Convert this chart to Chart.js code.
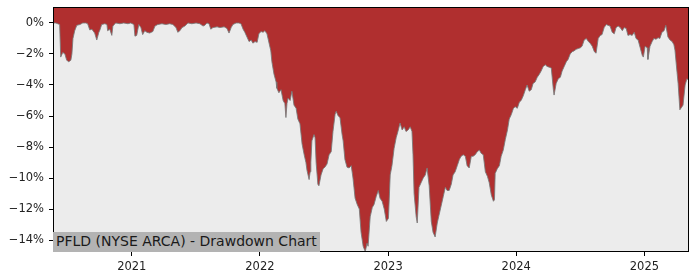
<!DOCTYPE html>
<html>
<head>
<meta charset="utf-8">
<script src="https://cdn.jsdelivr.net/npm/chart.js@4/dist/chart.umd.min.js"></script>
<style>
  html, body { margin: 0; padding: 0; background: #ffffff; }
  #wrap { position: relative; width: 700px; height: 280px; }
  #tag { position: absolute; font-family: "DejaVu Sans", sans-serif; font-size: 14px; color: #1a1a1a;
         background: #b3b3b3; padding: 1px 3px 2px 3px; white-space: nowrap; line-height: 17px; }
</style>
</head>
<body>
<div id="wrap">
  <canvas id="c" width="700" height="280"></canvas>
  <div id="tag">PFLD (NYSE ARCA) - Drawdown Chart</div>
</div>
<script>
const chartTitle = "PFLD (NYSE ARCA) - Drawdown Chart";
const yTicks = [0, -2, -4, -6, -8, -10, -12, -14];
const xTickYears = [2021, 2022, 2023, 2024, 2025];
const yRange = [-14.77, 1.03];

const dates = [
'2020-05-21','2020-05-29','2020-06-09','2020-06-12','2020-06-18','2020-06-24','2020-06-29','2020-07-05','2020-07-11','2020-07-14',
'2020-07-17','2020-07-22','2020-07-28','2020-08-06','2020-08-14','2020-08-23','2020-08-28','2020-09-03','2020-09-09','2020-09-17',
'2020-09-23','2020-09-29','2020-10-02','2020-10-07','2020-10-16','2020-10-22','2020-10-24','2020-10-30','2020-11-05','2020-11-08',
'2020-11-16','2020-11-28','2020-12-09','2020-12-21','2020-12-29','2021-01-07','2021-01-10','2021-01-15','2021-01-21','2021-01-27',
'2021-02-01','2021-02-07','2021-02-13','2021-02-21','2021-03-02','2021-03-08','2021-03-16','2021-03-28','2021-04-08','2021-04-19',
'2021-04-28','2021-05-07','2021-05-12','2021-05-18','2021-05-24','2021-06-01','2021-06-10','2021-06-21','2021-07-03','2021-07-14',
'2021-07-23','2021-07-28','2021-08-03','2021-08-09','2021-08-14','2021-08-20','2021-09-01','2021-09-09','2021-09-21','2021-09-29',
'2021-10-05','2021-10-11','2021-10-16','2021-10-25','2021-11-02','2021-11-08','2021-11-14','2021-11-19','2021-11-25','2021-12-01',
'2021-12-07','2021-12-12','2021-12-18','2021-12-24','2021-12-29','2022-01-04','2022-01-10','2022-01-15','2022-01-21','2022-01-27',
'2022-02-01','2022-02-04','2022-02-10','2022-02-16','2022-02-18','2022-02-24','2022-03-02','2022-03-08','2022-03-13','2022-03-16',
'2022-03-19','2022-03-22','2022-03-28','2022-04-02','2022-04-08','2022-04-14','2022-04-19','2022-04-25','2022-05-01','2022-05-07',
'2022-05-12','2022-05-15','2022-05-21','2022-05-24','2022-05-26','2022-05-29','2022-06-04','2022-06-07','2022-06-10','2022-06-15',
'2022-06-18','2022-06-24','2022-06-30','2022-07-05','2022-07-11','2022-07-17','2022-07-23','2022-07-28','2022-08-03','2022-08-06',
'2022-08-12','2022-08-17','2022-08-23','2022-08-26','2022-08-31','2022-09-06','2022-09-12','2022-09-18','2022-09-23','2022-09-29',
'2022-10-05','2022-10-11','2022-10-16','2022-10-22','2022-10-28','2022-11-02','2022-11-05','2022-11-11','2022-11-17','2022-11-22',
'2022-11-28','2022-12-04','2022-12-09','2022-12-15','2022-12-21','2022-12-27','2023-01-02','2023-01-07','2023-01-12','2023-01-18',
'2023-01-24','2023-01-29','2023-02-04','2023-02-10','2023-02-16','2023-02-21','2023-02-27','2023-03-05','2023-03-10','2023-03-13',
'2023-03-16','2023-03-22','2023-03-25','2023-03-30','2023-04-05','2023-04-11','2023-04-17','2023-04-22','2023-04-28','2023-05-04',
'2023-05-09','2023-05-15','2023-05-21','2023-05-26','2023-06-01','2023-06-07','2023-06-13','2023-06-18','2023-06-24','2023-06-30',
'2023-07-05','2023-07-11','2023-07-17','2023-07-23','2023-07-28','2023-08-03','2023-08-09','2023-08-14','2023-08-20','2023-08-26',
'2023-08-31','2023-09-06','2023-09-12','2023-09-18','2023-09-23','2023-09-29','2023-10-05','2023-10-11','2023-10-16','2023-10-22',
'2023-10-28','2023-10-31','2023-11-02','2023-11-08','2023-11-14','2023-11-19','2023-11-25','2023-12-01','2023-12-07','2023-12-12',
'2023-12-18','2023-12-24','2023-12-29','2024-01-04','2024-01-10','2024-01-15','2024-01-21','2024-01-27','2024-02-01','2024-02-07',
'2024-02-13','2024-02-18','2024-02-24','2024-03-01','2024-03-07','2024-03-12','2024-03-18','2024-03-24','2024-03-29','2024-04-04',
'2024-04-10','2024-04-16','2024-04-18','2024-04-24','2024-04-30','2024-05-06','2024-05-11','2024-05-17','2024-05-23','2024-05-28',
'2024-06-03','2024-06-09','2024-06-14','2024-06-20','2024-06-26','2024-07-02','2024-07-07','2024-07-13','2024-07-19','2024-07-25',
'2024-07-30','2024-08-05','2024-08-11','2024-08-16','2024-08-22','2024-08-28','2024-09-02','2024-09-08','2024-09-14','2024-09-19',
'2024-09-25','2024-10-01','2024-10-07','2024-10-12','2024-10-18','2024-10-24','2024-10-30','2024-11-04','2024-11-10','2024-11-15',
'2024-11-21','2024-11-27','2024-12-03','2024-12-08','2024-12-14','2024-12-20','2024-12-26','2024-12-29','2025-01-03','2025-01-09',
'2025-01-11','2025-01-17','2025-01-23','2025-01-28','2025-02-03','2025-02-09','2025-02-14','2025-02-20','2025-02-26','2025-03-03',
'2025-03-09','2025-03-15','2025-03-21','2025-03-26','2025-03-29','2025-04-04','2025-04-07','2025-04-12','2025-04-15','2025-04-21',
'2025-04-27','2025-05-02','2025-05-08'
];

const drawdown = [
0,0,-0.1,-2.2,-1.9,-2.0,-2.4,-2.5,-2.4,-2.0,
-1.0,-0.5,-0.15,-0.1,0,0,-0.05,-0.45,-0.4,-0.65,
-1.1,-0.6,-0.45,-0.1,-0.05,-0.1,-0.5,-0.4,-0.8,-0.2,
0,-0.05,0,-0.05,0,-0.1,-0.85,-0.8,-0.1,-0.3,
-0.75,-0.5,-0.6,-0.65,-0.55,-0.2,-0.1,-0.05,-0.1,-0.05,
-0.1,-0.3,-0.6,-0.5,-0.3,-0.2,0,-0.05,0,-0.05,
-0.2,-0.15,0,-0.05,-0.4,-0.3,-0.25,-0.3,-0.25,-0.35,
-0.65,-0.3,-0.1,0,0,-0.05,-0.4,-0.6,-0.9,-1.2,
-1.1,-1.3,-1.2,-1.25,-0.7,-0.55,-0.6,-0.5,-0.7,-1.3,
-1.8,-2.5,-3.3,-3.8,-4.2,-4.5,-4.3,-5.0,-5.2,-6.1,
-5.2,-4.85,-5.0,-4.4,-5.3,-5.5,-6.2,-6.5,-7.8,-8.5,
-9.0,-9.5,-10.1,-9.6,-9.0,-7.6,-7.2,-7.4,-9.0,-10.4,
-10.5,-9.8,-9.4,-9.3,-9.1,-8.5,-8.3,-7.0,-5.9,-5.7,
-6.0,-6.1,-7.2,-7.6,-8.8,-9.3,-9.35,-9.2,-10.0,-11.3,
-11.7,-12.0,-13.5,-14.4,-14.75,-14.2,-14.4,-12.5,-11.9,-11.7,
-11.2,-10.8,-11.3,-11.5,-12.0,-12.8,-12.6,-9.8,-9.2,-8.1,
-7.4,-7.0,-6.45,-6.9,-6.7,-7.0,-6.9,-6.7,-7.0,-8.5,
-11.0,-12.5,-12.9,-10.6,-10.3,-10.0,-9.8,-9.35,-10.5,-12.8,
-13.5,-13.8,-12.9,-12.4,-11.8,-11.2,-10.6,-10.8,-10.8,-10.4,
-9.8,-9.6,-9.2,-8.8,-8.6,-8.5,-8.6,-9.2,-9.35,-8.6,
-8.6,-8.5,-8.3,-8.2,-8.4,-8.5,-9.6,-9.9,-10.3,-11.1,
-11.5,-11.4,-9.7,-9.4,-9.2,-8.6,-8.2,-7.5,-6.9,-6.2,
-5.9,-5.5,-5.4,-5.5,-5.1,-5.0,-4.7,-4.3,-4.0,-4.4,
-4.3,-3.9,-3.8,-3.5,-3.3,-3.1,-2.8,-2.7,-2.8,-2.85,
-2.9,-4.3,-4.65,-3.9,-3.6,-3.5,-3.1,-2.8,-2.5,-2.35,
-2.0,-1.85,-1.8,-1.7,-1.65,-1.6,-1.5,-1.1,-1.0,-1.2,
-1.3,-1.5,-1.85,-1.95,-1.0,-0.8,-0.75,-0.3,-0.1,-0.15,
-0.2,-0.6,-0.7,-0.3,-0.2,-0.3,-0.5,-0.3,-0.35,-0.8,
-0.75,-0.8,-0.6,-1.0,-1.1,-1.6,-2.1,-2.2,-1.5,-1.6,
-2.35,-1.5,-1.2,-1.0,-1.05,-0.95,-1.0,-0.6,-0.5,-0.15,
-0.9,-1.1,-1.2,-1.4,-1.75,-3.2,-3.9,-5.6,-5.5,-5.3,
-4.0,-3.6,-3.7
];

function decYear(s) {
  const p = s.split('-').map(Number);
  const y = p[0];
  const start = Date.UTC(y, 0, 1), end = Date.UTC(y + 1, 0, 1);
  return y + (Date.UTC(y, p[1] - 1, p[2]) - start) / (end - start);
}

const points = dates.map((d, i) => ({ x: decYear(d), y: drawdown[i] }));
const xFont = { family: "'DejaVu Sans', sans-serif", size: 11.5 };
const yFont = { family: "'DejaVu Sans', sans-serif", size: 11.5, lineHeight: 0.2 };

const framePlugin = {
  id: 'frame',
  beforeDraw(chart) {
    const a = chart.chartArea, ctx = chart.ctx;
    ctx.save();
    ctx.fillStyle = '#ececec';
    ctx.fillRect(a.left, a.top, a.right - a.left, a.bottom - a.top);
    ctx.restore();
  },
  afterDraw(chart) {
    const a = chart.chartArea, ctx = chart.ctx;
    ctx.save();
    ctx.strokeStyle = '#000';
    ctx.lineWidth = 1;
    ctx.strokeRect(Math.round(a.left) + 0.5, Math.round(a.top) + 0.5,
                   Math.round(a.right - a.left) - 1, Math.round(a.bottom - a.top) - 1);
    ctx.restore();
    const tag = document.getElementById('tag');
    tag.style.left = Math.round(a.left) + 'px';
    tag.style.top = (Math.round(a.bottom) - tag.offsetHeight) + 'px';
  }
};

new Chart(document.getElementById('c'), {
  type: 'line',
  data: {
    datasets: [{
      label: chartTitle,
      data: points,
      fill: 'end',
      backgroundColor: '#b02f2f',
      borderColor: 'rgba(120,120,120,0.85)',
      borderWidth: 1,
      pointRadius: 0,
      tension: 0
    }]
  },
  options: {
    responsive: false,
    animation: false,
    devicePixelRatio: 1,
    layout: { padding: { top: 7, right: 11, left: 0, bottom: 0 } },
    plugins: { legend: { display: false }, tooltip: { enabled: false }, title: { display: false } },
    scales: {
      x: {
        type: 'linear',
        min: decYear(dates[0]),
        max: decYear(dates[dates.length - 1]),
        border: { display: false },
        grid: { display: true, drawOnChartArea: false, drawTicks: true, tickLength: 4, color: '#000' },
        afterBuildTicks(scale) { scale.ticks = xTickYears.map(v => ({ value: v })); },
        afterFit(scale) { scale.height = 28; },
        ticks: {
          font: xFont, color: '#222', padding: 4, maxRotation: 0, autoSkip: false,
          callback: v => String(v)
        }
      },
      y: {
        type: 'linear',
        min: yRange[0],
        max: yRange[1],
        border: { display: false },
        grid: { display: true, drawOnChartArea: false, drawTicks: true, tickLength: 4, color: '#000' },
        afterBuildTicks(scale) { scale.ticks = yTicks.map(v => ({ value: v })); },
        afterFit(scale) { scale.width = 53; scale.paddingTop = 0; scale.paddingBottom = 0; },
        ticks: {
          font: yFont, color: '#222', padding: 5, autoSkip: false,
          callback: v => (v < 0 ? '\u2212' + Math.abs(v) : String(v)) + '%'
        }
      }
    }
  },
  plugins: [framePlugin]
});
</script>
</body>
</html>
